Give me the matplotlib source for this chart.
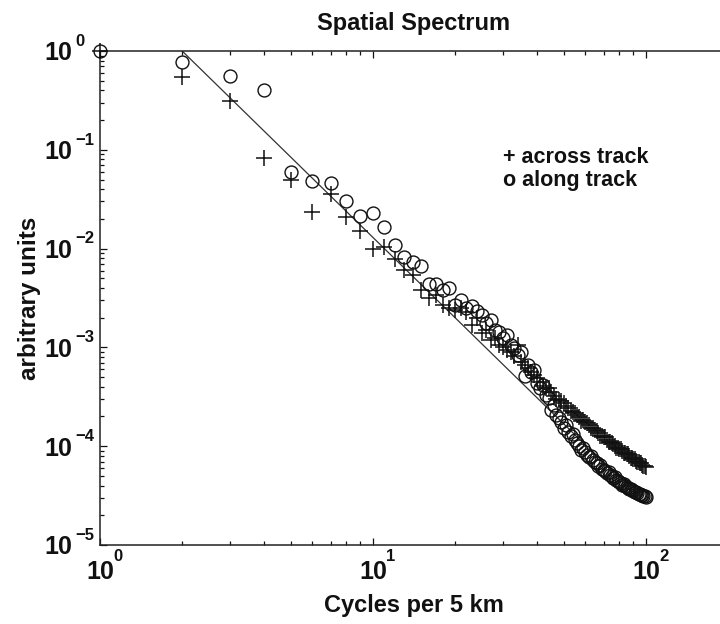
import matplotlib
matplotlib.use("Agg")
import matplotlib.pyplot as plt
import numpy as np
from matplotlib.ticker import LogLocator, NullFormatter, FuncFormatter

# ---------------- data ----------------
cycles = np.arange(1, 101)  # cycles per 5 km

across_track = [
    1.0, 0.55, 0.314, 0.082, 0.0494, 0.0236, 0.0357, 0.0209, 0.0151, 0.0099,
    0.01045, 0.00785, 0.00607, 0.00541, 0.00381, 0.00316, 0.00339, 0.00269, 0.00251, 0.00239,
    0.00251, 0.00228, 0.00169, 0.00199, 0.00140, 0.00150, 0.00119, 0.00125, 0.00106, 0.00101,
    0.000942, 0.000898, 0.000818, 0.00106, 0.000711, 0.000664, 0.000619, 0.000564, 0.000526, 0.000490,
    0.000447, 0.000407, 0.000388, 0.000388, 0.000354, 0.000322, 0.000301, 0.000294, 0.000287, 0.000274,
    0.000255, 0.000244, 0.000227, 0.000222, 0.000217, 0.000207, 0.000198, 0.000180, 0.000184, 0.000176,
    0.000172, 0.000164, 0.000153, 0.000153, 0.000146, 0.000143, 0.000136, 0.000127, 0.000127, 0.000124,
    0.000124, 0.000116, 0.000110, 0.000110, 0.000108, 0.000105, 0.000100, 9.59e-5, 9.59e-5, 9.37e-5,
    9.37e-5, 8.94e-5, 8.53e-5, 8.53e-5, 8.34e-5, 8.34e-5, 7.96e-5, 7.60e-5, 7.60e-5, 7.42e-5,
    7.42e-5, 7.08e-5, 6.92e-5, 6.92e-5, 6.76e-5, 6.76e-5, 6.46e-5, 6.31e-5, 6.31e-5, 6.16e-5,
]

along_track = [
    1.0, 0.769, 0.562, 0.403, 0.0600, 0.0487, 0.0465, 0.0305, 0.0214, 0.0231,
    0.0164, 0.01087, 0.00822, 0.00731, 0.00667, 0.00438, 0.00438, 0.00381, 0.00399, 0.00269,
    0.00302, 0.00251, 0.00262, 0.00233, 0.00213, 0.00177, 0.00189, 0.00150, 0.00143, 0.00125,
    0.00134, 0.00106, 0.000986, 0.000838, 0.000898, 0.000514, 0.000664, 0.000564, 0.000590, 0.000437,
    0.000388, 0.000416, 0.000330, 0.000308, 0.000232, 0.000261, 0.000207, 0.000193, 0.000176, 0.000153,
    0.000164, 0.000139, 0.000127, 0.000133, 0.000116, 0.000108, 0.000100, 9.16e-5, 9.59e-5, 8.73e-5,
    8.15e-5, 7.78e-5, 7.96e-5, 7.25e-5, 6.92e-5, 6.76e-5, 6.31e-5, 6.46e-5, 5.88e-5, 5.74e-5,
    5.61e-5, 5.36e-5, 5.48e-5, 5.12e-5, 4.99e-5, 4.76e-5, 4.88e-5, 4.55e-5, 4.45e-5, 4.34e-5,
    4.25e-5, 4.05e-5, 4.14e-5, 3.95e-5, 3.86e-5, 3.77e-5, 3.69e-5, 3.69e-5, 3.60e-5, 3.52e-5,
    3.44e-5, 3.44e-5, 3.36e-5, 3.28e-5, 3.28e-5, 3.21e-5, 3.21e-5, 3.13e-5, 3.13e-5, 3.06e-5,
]

# fitted power-law line (end points)
fit_x = [2.0, 60.0]
fit_y = [1.0, 1.03e-4]

title_text = "Spatial Spectrum"
xlabel_text = "Cycles per 5 km"
ylabel_text = "arbitrary units"
legend_lines = ["+ across track", "o along track"]

# ---------------- style ----------------
plt.rcParams["font.family"] = ["Liberation Sans", "DejaVu Sans"]
plt.rcParams["font.weight"] = "bold"

fig = plt.figure(figsize=(7.2, 6.24), dpi=100)
# axes extends slightly past the right edge of the picture, as in the reference
ax = fig.add_axes([100 / 720, 1 - 545 / 624, 628 / 720, 494 / 624])

ink = "#111111"
ax.plot(fit_x, fit_y, color="#333333", lw=0.9, zorder=2)
ax.plot(cycles, along_track, linestyle="none", marker="o", ms=9.3, mfc="none",
        mec=ink, mew=1.0, clip_on=False, zorder=3)
ax.plot(cycles, across_track, linestyle="none", marker="+", ms=11,
        mec=ink, mew=1.1, clip_on=False, zorder=4)

ax.set_xscale("log")
ax.set_yscale("log")
ax.set_xlim(1, 200)
ax.set_ylim(1e-5, 1)

ax.xaxis.set_major_locator(LogLocator(base=10, numticks=10))
ax.yaxis.set_major_locator(LogLocator(base=10, numticks=10))
ax.xaxis.set_minor_locator(LogLocator(base=10, subs=np.arange(2, 10), numticks=20))
ax.yaxis.set_minor_locator(LogLocator(base=10, subs=np.arange(2, 10), numticks=20))
ax.xaxis.set_minor_formatter(NullFormatter())
ax.yaxis.set_minor_formatter(NullFormatter())
base_fmt = FuncFormatter(lambda v, p: "10")
ax.xaxis.set_major_formatter(base_fmt)
ax.yaxis.set_major_formatter(base_fmt)

ax.tick_params(which="both", direction="in", top=True, right=False, colors=ink,
               labelsize=18, width=0.9)
ax.tick_params(which="major", length=5)
ax.tick_params(which="minor", length=3)
ax.tick_params(axis="x", which="major", pad=11)
ax.tick_params(axis="y", which="major", pad=40)
for side in ["left", "bottom", "top"]:
    ax.spines[side].set_linewidth(1.1)
    ax.spines[side].set_color("#222222")
ax.spines["right"].set_visible(False)

ax.set_title(title_text, fontsize=17, pad=15, color=ink, fontweight="bold")
ax.set_xlabel(xlabel_text, fontsize=17, labelpad=7, color=ink, fontweight="bold")
ax.set_ylabel(ylabel_text, fontsize=17.5, color=ink, fontweight="bold")
ax.yaxis.set_label_coords(-0.094, 0.5)

ax.text(0.642, 0.785, legend_lines[0], transform=ax.transAxes, fontsize=15.5,
        fontweight="bold", va="center", ha="left", color=ink)
ax.text(0.642, 0.738, legend_lines[1], transform=ax.transAxes, fontsize=15.5,
        fontweight="bold", va="center", ha="left", color=ink)


def exp_text(v):
    e = int(round(np.log10(v)))
    return str(e).replace("-", "\u2212")


# raised exponents of the "10" tick labels (placed relative to each tick)
x_lo, x_hi = ax.get_xlim()
for v in ax.get_xticks():
    if x_lo * 0.999 <= v <= x_hi:
        ax.annotate(exp_text(v), xy=(v, 0), xycoords=ax.get_xaxis_transform(),
                    xytext=(9.5, -8.5), textcoords="offset points", ha="left",
                    va="center", fontsize=12, fontweight="bold", color=ink,
                    annotation_clip=False)
y_lo, y_hi = ax.get_ylim()
for v in ax.get_yticks():
    if y_lo * 0.999 <= v <= y_hi * 1.001:
        ax.annotate(exp_text(v), xy=(0, v), xycoords=ax.get_yaxis_transform(),
                    xytext=(-18, 7), textcoords="offset points", ha="left",
                    va="center", fontsize=12, fontweight="bold", color=ink,
                    annotation_clip=False)

fig.canvas.draw()
for t in ax.yaxis.get_major_ticks():
    t.label1.set_horizontalalignment("left")

fig.savefig("out.png", dpi=100)
